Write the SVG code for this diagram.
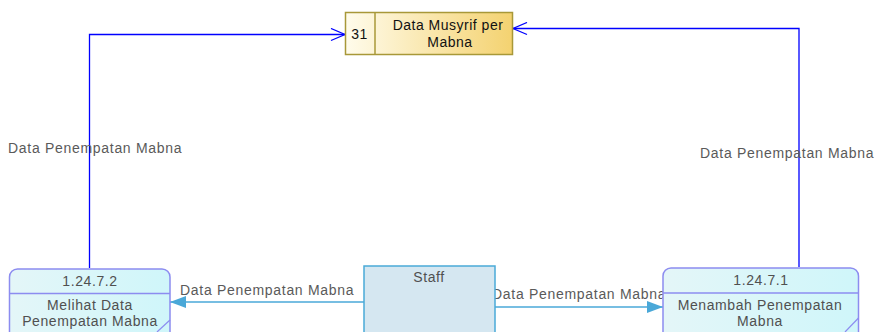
<svg xmlns="http://www.w3.org/2000/svg" width="876" height="332" viewBox="0 0 876 332">
<defs>
<linearGradient id="gStore" x1="0" y1="0" x2="1" y2="0">
<stop offset="0" stop-color="#FFFCEC"/>
<stop offset="1" stop-color="#F4D270"/>
</linearGradient>
<linearGradient id="gProc" x1="0" y1="0" x2="1" y2="0">
<stop offset="0" stop-color="#E4F6F8"/>
<stop offset="1" stop-color="#CFF6FA"/>
</linearGradient>
<marker id="open" viewBox="0 0 16 14" refX="15" refY="7" markerWidth="16" markerHeight="14" markerUnits="userSpaceOnUse" orient="auto">
<path d="M1,1 L15,7 L1,13" fill="none" stroke="#0000FF" stroke-width="1.3"/>
</marker>
<marker id="fill" viewBox="0 0 16 12" refX="16" refY="6" markerWidth="16" markerHeight="12" markerUnits="userSpaceOnUse" orient="auto">
<path d="M0,0 L16,6 L0,12 Z" fill="#4AA8D8"/>
</marker>
</defs>
<style>
.lbl{font-family:"Liberation Sans",Arial,sans-serif;font-size:14px;fill:#5A5A5A;letter-spacing:0.7px}
.txt{font-family:"Liberation Sans",Arial,sans-serif;font-size:14px;fill:#505050;letter-spacing:0.6px}
.st{font-family:"Liberation Sans",Arial,sans-serif;font-size:14px;fill:#111;letter-spacing:0.5px}
.proc{fill:url(#gProc);stroke:#8C8CF0;stroke-width:1.5}
.flow{fill:none;stroke:#0000FF;stroke-width:1.3}
.flow2{fill:none;stroke:#4AA8D8;stroke-width:1.3}
</style>
<rect width="876" height="332" fill="#FFFFFF"/>

<g id="connectors">
<path class="flow" d="M89.5,268 V34.5 H345" marker-end="url(#open)"/>
<path class="flow" d="M799,267 V28.5 H513" marker-end="url(#open)"/>
<path class="flow2" d="M364,302 H170" marker-end="url(#fill)"/>
<path class="flow2" d="M495,307 H663" marker-end="url(#fill)"/>
<text class="lbl" x="8" y="153">Data Penempatan Mabna</text>
<text class="lbl" x="700" y="158">Data Penempatan Mabna</text>
<text class="lbl" x="180" y="295">Data Penempatan Mabna</text>
<text class="lbl" x="492" y="299">Data Penempatan Mabna</text>
</g>

<g id="store31">
<rect x="345.5" y="12.5" width="167" height="42" fill="url(#gStore)" stroke="#A89838" stroke-width="1.5"/>
<line x1="375" y1="12.5" x2="375" y2="54.5" stroke="#A89838" stroke-width="1.5"/>
<text class="st" x="359.5" y="38.5" text-anchor="middle">31</text>
<text class="st" x="448" y="29.5" text-anchor="middle">Data Musyrif per</text>
<text class="st" x="450" y="46.5" text-anchor="middle">Mabna</text>
</g>

<g id="staff">
<rect x="364" y="266" width="131" height="80" fill="#D5E7F1" stroke="#4AAAD8" stroke-width="1.5"/>
<text class="txt" x="429" y="282" text-anchor="middle">Staff</text>
</g>

<g id="proc12472">
<rect class="proc" x="9.5" y="269" width="160.5" height="80" rx="8" ry="8"/>
<line x1="9.5" y1="293.5" x2="170" y2="293.5" stroke="#8C8CF0" stroke-width="1.3"/>
<line x1="157" y1="332" x2="170" y2="320" stroke="#8C8CF0" stroke-width="1.2"/>
<text class="txt" x="90" y="286" text-anchor="middle">1.24.7.2</text>
<text class="txt" x="90" y="310" text-anchor="middle">Melihat Data</text>
<text class="txt" x="90" y="326" text-anchor="middle">Penempatan Mabna</text>
</g>

<g id="proc12471">
<rect class="proc" x="663" y="268" width="195.5" height="80" rx="8" ry="8"/>
<line x1="663" y1="293" x2="858.5" y2="293" stroke="#8C8CF0" stroke-width="1.3"/>
<line x1="845" y1="332" x2="858.5" y2="318" stroke="#8C8CF0" stroke-width="1.2"/>
<text class="txt" x="761" y="284.5" text-anchor="middle">1.24.7.1</text>
<text class="txt" x="760" y="310" text-anchor="middle">Menambah Penempatan</text>
<text class="txt" x="760" y="326" text-anchor="middle">Mabna</text>
</g>
</svg>
